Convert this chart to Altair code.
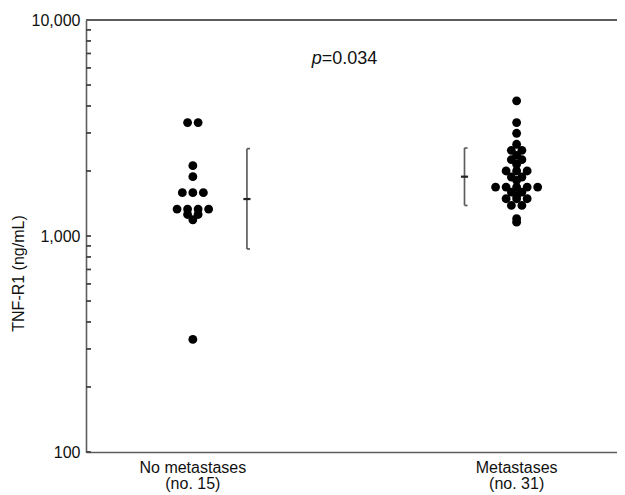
import altair as alt
import pandas as pd

# ---- data ----
group_labels = ["No metastases\n(no. 15)", "Metastases\n(no. 31)"]
group_pos = [1, 2]

g1_values = [3350, 3350, 2117, 1882, 1587, 1587, 1587, 1332, 1332, 1332, 1332, 1258, 1258, 1189, 332]
g1_slots = [-0.5, 0.5, 0, 0, -1, 0, 1, -1.5, -0.5, 0.5, 1.5, -0.5, 0.5, 0, 0]

g2_values = [4223, 3350, 2989, 2659, 2492, 2492, 2364, 2256, 2256, 2148,
             2000, 2000, 2000, 1875, 1875, 1810, 1685, 1685, 1685, 1685, 1685,
             1597, 1597, 1540, 1488, 1488, 1488, 1385, 1385, 1202, 1159]
g2_slots = [0, 0, 0, 0, -0.5, 0.5, 0, -0.5, 0.5, 0,
            -1, 0, 1, -0.5, 0.5, 0, -2, -1, 0, 1, 2,
            -0.5, 0.5, 0, -1, 0, 1, -0.5, 0.5, 0, 0]

err_offset = [0.167, -0.161]
err_mid = [1483, 1882]
err_low = [871, 1385]
err_high = [2538, 2555]

tick_values = [100, 200, 300, 400, 500, 600, 700, 800, 900,
               1000, 2000, 3000, 4000, 5000, 6000, 7000, 8000, 9000, 10000]
label_values = [100, 1000, 10000]

p_x = [1.398]
p_y = [6250]

# ---- layout ----
W, H = 531, 432
slot_w = 0.0325
cap_len = 0.0095
mid_half = 0.011
FONT = "Liberation Sans"
LINE = "#5e5e5e"

x_scale = alt.Scale(domain=[0.67, 2.31], nice=False, zero=False)
y_scale = alt.Scale(type="log", domain=[100, 10000], nice=False)

x_axis = alt.Axis(labels=False, ticks=False, title=None, grid=False,
                  domainColor=LINE, domainWidth=1.6)
y_axis = alt.Axis(values=label_values, format=",", ticks=False, grid=False,
                  domainColor=LINE, domainWidth=1.6,
                  labelFont=FONT, labelFontSize=16, labelColor="#111",
                  labelPadding=6, title="TNF-R1 (ng/mL)", titleFont=FONT,
                  titleFontSize=16, titleFontWeight="normal", titleColor="#111",
                  titleX=-68, titleY=253, titleBaseline="middle")

X = lambda f="x": alt.X(f"{f}:Q", scale=x_scale, axis=x_axis)
Y = lambda f="y": alt.Y(f"{f}:Q", scale=y_scale, axis=y_axis)

dots = pd.DataFrame({
    "x": [group_pos[0] + s * slot_w for s in g1_slots]
         + [group_pos[1] + s * slot_w for s in g2_slots],
    "y": g1_values + g2_values,
})

bars = pd.DataFrame({
    "x": [p + o for p, o in zip(group_pos, err_offset)],
    "low": err_low, "high": err_high, "mid": err_mid,
})
bars["xcap"] = bars["x"] + cap_len
bars["xl"] = bars["x"] - mid_half
bars["xr"] = bars["x"] + mid_half

ticks = pd.DataFrame({"y": tick_values})
labels = pd.DataFrame({"x": group_pos, "label": group_labels})
ptext = pd.DataFrame({"x": p_x, "y": p_y})

point_layer = alt.Chart(dots).mark_circle(size=78, color="#000", opacity=1).encode(x=X(), y=Y())

base_bars = alt.Chart(bars)
vline = base_bars.mark_rule(color=LINE, strokeWidth=1.7).encode(
    x=X(), y=alt.Y("low:Q", scale=y_scale, axis=y_axis), y2="high:Q")
cap_top = base_bars.mark_rule(color=LINE, strokeWidth=1.7).encode(
    x=X(), x2="xcap:Q", y=alt.Y("high:Q", scale=y_scale, axis=y_axis))
cap_bot = base_bars.mark_rule(color=LINE, strokeWidth=1.7).encode(
    x=X(), x2="xcap:Q", y=alt.Y("low:Q", scale=y_scale, axis=y_axis))
mid_tick = base_bars.mark_rule(color="#222", strokeWidth=2.2).encode(
    x=X("xl"), x2="xr:Q", y=alt.Y("mid:Q", scale=y_scale, axis=y_axis))

tick_layer = alt.Chart(ticks).mark_rule(color="#444", strokeWidth=1.8).encode(
    y=Y(), x=alt.value(0), x2=alt.value(5))

top_line = alt.Chart(ticks).mark_rule(color=LINE, strokeWidth=1.6).encode(
    y=alt.value(0), x=alt.value(0), x2=alt.value(W))

cat_text = alt.Chart(labels).mark_text(
    font=FONT, fontSize=16, lineBreak="\n", lineHeight=16,
    baseline="alphabetic", align="center", color="#111"
).encode(x=X(), y=alt.value(453), text="label:N")

p_italic = alt.Chart(ptext).mark_text(
    font=FONT, fontSize=18, fontStyle="italic", align="right",
    baseline="alphabetic", color="#111", text="p"
).encode(x=X(), y=Y())
p_rest = alt.Chart(ptext).mark_text(
    font=FONT, fontSize=18, align="left",
    baseline="alphabetic", color="#111", text="=0.034"
).encode(x=X(), y=Y())

chart = alt.layer(
    point_layer, tick_layer, top_line, vline, cap_top, cap_bot, mid_tick,
    cat_text, p_italic, p_rest
).properties(
    width=W, height=H,
    autosize=alt.AutoSizeParams(type="none"),
    padding={"left": 78, "top": 12, "right": 0, "bottom": 43},
    background="white",
).configure_view(stroke=None)

chart.save("out.html", embed_options={"renderer": "svg", "actions": False})
